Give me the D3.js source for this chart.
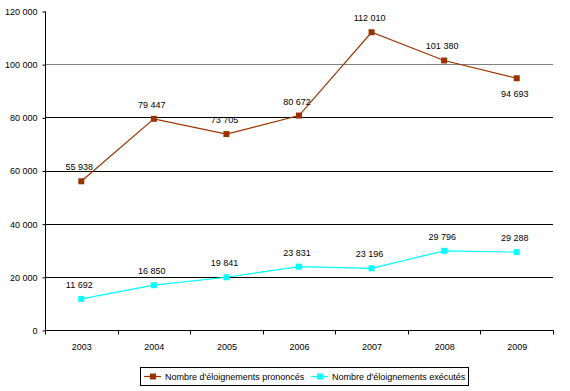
<!doctype html>
<html>
<head>
<meta charset="utf-8">
<style>
  body { margin: 0; background: #fff; }
  svg { display: block; font-family: "Liberation Sans", Arial, sans-serif; }
</style>
<script src="https://d3js.org/d3.v7.min.js"></script>
</head>
<body>
<svg width="570" height="391"></svg>
<script>
var years = ["2003", "2004", "2005", "2006", "2007", "2008", "2009"];
var prononces = [55938, 79447, 73705, 80672, 112010, 101380, 94693];
var executes = [11692, 16850, 19841, 23831, 23196, 29796, 29288];
var yTicks = [0, 20000, 40000, 60000, 80000, 100000, 120000];
var seriesNames = ["Nombre d'éloignements prononcés", "Nombre d'éloignements exécutés"];
var seriesColors = ["#993300", "#00ffff"];

var svg = d3.select("svg");
var plotLeft = 45, plotRight = 553, plotTop = 11, plotBottom = 330;

var x = d3.scaleBand().domain(years).range([plotLeft, plotRight]);
var y = d3.scaleLinear().domain([0, 120000]).range([plotBottom, plotTop]);

var fmt = function(v) { return d3.format(",")(v).replace(/,/g, " "); };

// gridlines
svg.append("g").selectAll("line")
    .data(yTicks.filter(function(d) { return d > 0 && d < 120000; }))
    .enter().append("line")
    .attr("x1", plotLeft).attr("x2", plotRight)
    .attr("y1", function(d) { return Math.round(y(d)) + 0.5; })
    .attr("y2", function(d) { return Math.round(y(d)) + 0.5; })
    .attr("stroke", function(d) { return d === 100000 ? "#808080" : "#000"; })
    .attr("stroke-width", 1);

// y axis
var yAxis = svg.append("g")
    .attr("transform", "translate(" + (plotLeft + 0.5) + ",0.5)")
    .call(d3.axisLeft(y).tickValues(yTicks).tickSize(3).tickPadding(5).tickFormat(fmt));
yAxis.select(".domain").attr("d", "M0," + plotTop + "V" + plotBottom).attr("stroke", "#000");
yAxis.selectAll("text").attr("font-size", "9px").attr("fill", "#000").attr("font-family", null);

// x axis
var xAxis = svg.append("g")
    .attr("transform", "translate(0.5," + (plotBottom + 0.5) + ")")
    .call(d3.axisBottom(x).tickSize(0).tickPadding(13));
xAxis.select(".domain").attr("d", "M" + plotLeft + ",0H" + plotRight).attr("stroke", "#000");
xAxis.selectAll("text").attr("font-size", "9px").attr("fill", "#000").attr("font-family", null);
xAxis.selectAll(".sep")
    .data(years.map(function(d) { return x(d); }).concat([plotRight]))
    .enter().append("line")
    .attr("x1", function(d) { return Math.round(d); }).attr("x2", function(d) { return Math.round(d); })
    .attr("y1", 0).attr("y2", 4)
    .attr("stroke", "#000");

var cx = function(d, i) { return x(years[i]) + x.bandwidth() / 2; };

[prononces, executes].forEach(function(values, s) {
    var line = d3.line()
        .x(function(d, i) { return cx(d, i); })
        .y(function(d) { return y(d); });
    svg.append("path")
        .datum(values)
        .attr("d", line)
        .attr("fill", "none")
        .attr("stroke", seriesColors[s])
        .attr("stroke-width", 1.2);
    svg.append("g").selectAll("rect")
        .data(values).enter().append("rect")
        .attr("x", function(d, i) { return cx(d, i) - 3; })
        .attr("y", function(d) { return y(d) - 3; })
        .attr("width", 6).attr("height", 6)
        .attr("fill", seriesColors[s]);
    svg.append("g").selectAll("text")
        .data(values).enter().append("text")
        .attr("x", function(d, i) { return cx(d, i) - 2; })
        .attr("y", function(d, i) {
            var below = s === 0 && i === values.length - 1;
            return below ? y(d) + 19 : y(d) - 11;
        })
        .attr("text-anchor", "middle")
        .attr("font-size", "9px")
        .attr("fill", "#000")
        .text(fmt);
});

// legend
var lg = svg.append("g");
lg.append("rect")
    .attr("x", 140.5).attr("y", 367.5).attr("width", 328).attr("height", 18)
    .attr("fill", "#fff").attr("stroke", "#000");
var legendX = [144, 311];
seriesNames.forEach(function(name, s) {
    var g = lg.append("g").attr("transform", "translate(" + legendX[s] + ",376.5)");
    g.append("line").attr("x1", 0).attr("x2", 17).attr("stroke", seriesColors[s]).attr("stroke-width", 1.2);
    g.append("rect").attr("x", 6).attr("y", -3).attr("width", 6).attr("height", 6).attr("fill", seriesColors[s]);
    g.append("text").attr("x", 21).attr("y", 3.5).attr("font-size", "9px").attr("fill", "#000").text(name);
});
</script>
</body>
</html>
